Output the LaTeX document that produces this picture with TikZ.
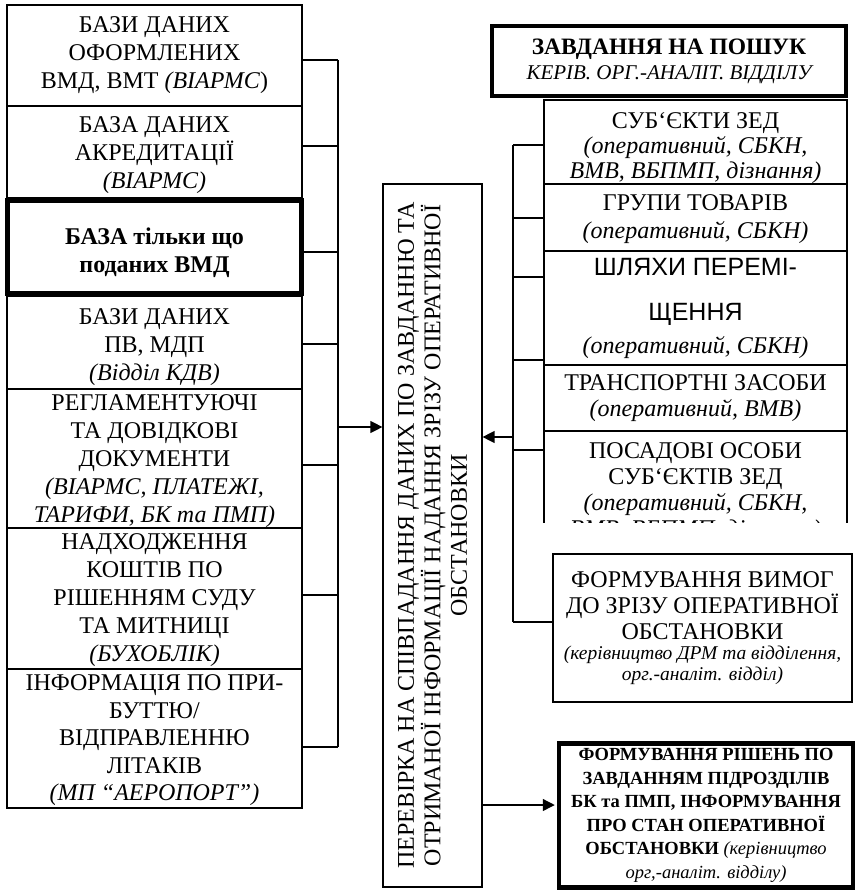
\documentclass[tikz,border=0pt]{standalone}
\usepackage{fontspec}
\setmainfont{Liberation Serif}
\newfontfamily\arialfont{Liberation Sans}
\usetikzlibrary{arrows.meta}
\newcommand\tp[1]{\rule{0pt}{#1pt}}
\begin{document}
\begin{tikzpicture}[x=1pt,y=-1pt,
  box/.style={draw, line width=1.2pt, inner sep=0pt, align=center, font=\fontsize{24}{28}\selectfont},
  boldbox/.style={box, line width=4.5pt},
  conn/.style={line width=1.3pt},
  arr/.style={conn, -{Triangle[length=12pt,width=12pt]}},
]
\useasboundingbox (0,0) rectangle (855,891);

% left column
\node[box, minimum width=295, minimum height=101] (L1) at (154.5,55.5) {БАЗИ ДАНИХ\\ОФОРМЛЕНИХ\\ВМД, ВМТ \textit{(ВІАРМС})};
\node[box, minimum width=295, minimum height=92] (L2) at (154.5,152) {\tp{22}БАЗА ДАНИХ\\АКРЕДИТАЦІЇ\\\textit{(ВІАРМС)}};
\node[boldbox, minimum width=294, minimum height=93, font=\fontsize{24}{28}\selectfont\bfseries] (L3) at (154.5,247) {\tp{28}БАЗА тільки що\\поданих ВМД};
\node[box, minimum width=295, minimum height=93] (L4) at (154.5,342.5) {\tp{26}БАЗИ ДАНИХ\\ПВ, МДП\\\textit{(Відділ КДВ)}};
\node[box, minimum width=295, minimum height=139] (L5) at (154.5,458.5) {\tp{22}РЕГЛАМЕНТУЮЧІ\\ТА ДОВІДКОВІ\\ДОКУМЕНТИ\\\textit{(ВІАРМС, ПЛАТЕЖІ,}\\\textit{ТАРИФИ, БК та ПМП)}};
\node[box, minimum width=295, minimum height=141] (L6) at (154.5,598.5) {\tp{20}НАДХОДЖЕННЯ\\КОШТІВ ПО\\РІШЕННЯМ СУДУ\\ТА МИТНИЦІ\\\textit{(БУХОБЛІК)}};
\node[box, minimum width=295, minimum height=139, font=\fontsize{24}{27.5}\selectfont] (L7) at (154.5,738.5) {\tp{20}ІНФОРМАЦІЯ ПО ПРИ-\\БУТТЮ/\\ВІДПРАВЛЕННЮ\\ЛІТАКІВ\\\textit{(МП “АЕРОПОРТ”)}};

% centre
\node[box, rotate=90, minimum width=703, minimum height=99, font=\fontsize{24}{26.5}\selectfont] (C) at (432.5,535.5) {ПЕРЕВІРКА НА СПІВПАДАННЯ ДАНИХ ПО ЗАВДАННЮ ТА\\ОТРИМАНОЇ ІНФОРМАЦІЇ НАДАННЯ ЗРІЗУ ОПЕРАТИВНОЇ\\ОБСТАНОВКИ};

% right column
\node[boldbox, align=flush center, minimum width=354, minimum height=70, text width=350] (T) at (669,61) {{\bfseries\fontsize{23.5}{25}\selectfont ЗАВДАННЯ НА ПОШУК\par}{\itshape\fontsize{21}{25}\selectfont КЕРІВ. ОРГ.-АНАЛІТ. ВІДДІЛУ\par}};
\node[box, minimum width=303, minimum height=84, font=\fontsize{24}{25}\selectfont] (R1) at (695.5,142) {\tp{28}СУБ‘ЄКТИ ЗЕД\\\textit{(оперативний, СБКН,}\\\textit{ВМВ, ВБПМП, дізнання)}};
\node[box, minimum width=303, minimum height=67, font=\fontsize{24}{28}\selectfont] (R2) at (695.5,217.5) {\tp{20}ГРУПИ ТОВАРІВ\\\textit{(оперативний, СБКН)}};
\node[box, align=flush center, minimum width=303, minimum height=114, text width=300] (R3) at (695.5,308) {{\arialfont\fontsize{25}{45}\selectfont ШЛЯХИ ПЕРЕМІ-\\ЩЕННЯ\par}{\itshape\fontsize{24}{33}\selectfont (оперативний, СБКН)\par}};
\node[box, minimum width=303, minimum height=66, font=\fontsize{24}{26}\selectfont] (R4) at (695.5,398) {ТРАНСПОРТНІ ЗАСОБИ\\\textit{(оперативний, ВМВ)}};
\begin{scope}
\clip (530,420) rectangle (860,522);
\node[box, minimum width=303, minimum height=123, font=\fontsize{24}{26}\selectfont] (R5) at (695.5,492.5) {ПОСАДОВІ ОСОБИ\\СУБ‘ЄКТІВ ЗЕД\\\textit{(оперативний, СБКН,}\\\textit{ВМВ, ВБПМП, дізнання)}};
\end{scope}
\node[box, align=flush center, minimum width=299, minimum height=148, text width=296] (F1) at (702.5,628) {{\fontsize{24}{26}\selectfont ФОРМУВАННЯ ВИМОГ\\ДО ЗРІЗУ ОПЕРАТИВНОЇ\\ОБСТАНОВКИ\par}{\itshape\fontsize{19.5}{20.5}\selectfont (керівництво ДРМ та відділення,\\орг.-аналіт. відділ)\par}};
\node[boldbox, align=flush center, minimum width=294, minimum height=144, text width=292, font=\fontsize{18.5}{23.5}\selectfont] (B) at (706,815.5) {\textbf{ФОРМУВАННЯ РІШЕНЬ ПО}\\\textbf{ЗАВДАННЯМ ПІДРОЗДІЛІВ}\\\textbf{БК та ПМП, ІНФОРМУВАННЯ}\\\textbf{ПРО СТАН ОПЕРАТИВНОЇ}\\\textbf{ОБСТАНОВКИ} \textit{(керівництво}\\\textit{орг,-аналіт. відділу)}};

% left bus
\coordinate (lbT) at (338,60);
\coordinate (lbB) at (338,747);
\coordinate (la) at (338,427);
\draw[conn] (lbT) -- (lbB);
\foreach \n/\y in {L1/60, L2/146, L3/252, L4/344, L5/465, L6/595, L7/747}
  \draw[conn] (\n.east |- 0,\y) -- (lbT |- 0,\y);
\draw[arr] (la) -- (C.north |- la);

% right bus
\coordinate (rbT) at (513,145);
\coordinate (rbB) at (513,622);
\coordinate (ra) at (513,437);
\draw[conn] (rbT) -- (rbB);
\foreach \n/\y in {R1/145, R2/218, R3/277, R4/360, R5/450}
  \draw[conn] (\n.west |- 0,\y) -- (rbT |- 0,\y);
\draw[conn] (rbB) -- (F1.west |- rbB);
\draw[arr] (ra) -- (C.south |- ra);

% output arrow
\draw[arr] (C.south |- 0,805) -- ([xshift=-2pt]B.west |- 0,805);
\end{tikzpicture}
\end{document}
